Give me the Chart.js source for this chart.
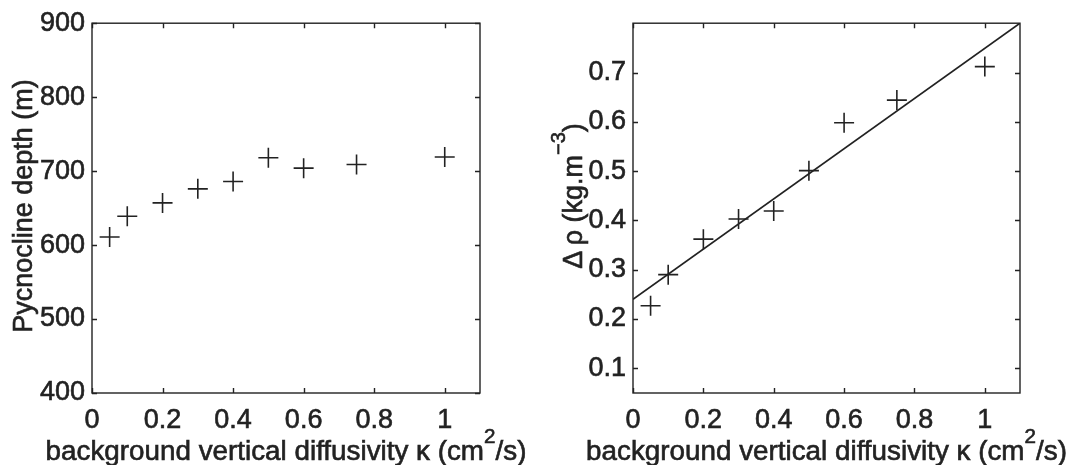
<!DOCTYPE html>
<html>
<head>
<meta charset="utf-8">
<script src="https://cdn.jsdelivr.net/npm/chart.js@4/dist/chart.umd.min.js"></script>
<style>
  html, body { margin: 0; padding: 0; background: #ffffff; }
  #wrap { position: relative; width: 1069px; height: 465px; background: #ffffff; overflow: hidden; }
  #left { position: absolute; left: 0; top: 0; }
  #right { position: absolute; left: 530px; top: 0; }
</style>
</head>
<body>
<div id="wrap">
  <canvas id="left" width="530" height="465"></canvas>
  <canvas id="right" width="539" height="465"></canvas>
</div>
<script>
// ---- data ----
const kappa = [0.05, 0.1, 0.2, 0.3, 0.4, 0.5, 0.6, 0.75, 1.0];           // cm^2/s
const pycnoclineDepth = [611, 639, 657, 676, 686, 718, 704, 709, 719];    // m
const deltaRho = [0.227, 0.290, 0.362, 0.403, 0.419, 0.501, 0.598, 0.644, 0.712]; // kg m^-3
const fitKappa = [0, 1.1];
const fitDeltaRho = [0.240, 0.800];
const kappaTicks = [0, 0.2, 0.4, 0.6, 0.8, 1];
const depthTicks = [400, 500, 600, 700, 800, 900];
const rhoTicks = [0.1, 0.2, 0.3, 0.4, 0.5, 0.6, 0.7];

const INK = '#222222';
const FONT = '"Liberation Sans", Arial, Helvetica, sans-serif';
const TICK_FONT_SIZE = 27;
const TITLE_FONT_SIZE = 27;

function pts(xs, ys) { return xs.map((x, i) => ({ x: x, y: ys[i] })); }

// draws a string made of parts, with optional superscript parts, centred on the origin
function drawParts(ctx, parts, size) {
  const supSize = Math.round(size * 0.75);
  let total = 0;
  const widths = parts.map(p => {
    ctx.font = (p.sup ? supSize : size) + 'px ' + FONT;
    const w = ctx.measureText(p.t).width;
    total += w;
    return w;
  });
  let x = -total / 2;
  parts.forEach((p, i) => {
    ctx.font = (p.sup ? supSize : size) + 'px ' + FONT;
    const y = p.sup ? -size * 0.62 : 0;
    ctx.strokeText(p.t, x, y);
    ctx.fillText(p.t, x, y);
    x += widths[i];
  });
}

const frameAndTitles = {
  id: 'frameAndTitles',
  afterDatasetsDraw(chart, args, opts) {
    const ctx = chart.ctx;
    const { left, right, top, bottom } = chart.chartArea;
    const xs = chart.scales.x, ys = chart.scales.y;
    ctx.save();
    ctx.strokeStyle = INK;
    ctx.lineWidth = 1.4;
    ctx.strokeRect(left, top, right - left, bottom - top);
    const TL = 5;
    ctx.beginPath();
    xs.ticks.forEach(t => {
      const px = Math.round(xs.getPixelForValue(t.value)) + 0.5;
      ctx.moveTo(px, bottom); ctx.lineTo(px, bottom - TL);
      ctx.moveTo(px, top); ctx.lineTo(px, top + TL);
    });
    ys.ticks.forEach(t => {
      const py = Math.round(ys.getPixelForValue(t.value)) + 0.5;
      ctx.moveTo(left, py); ctx.lineTo(left + TL, py);
      ctx.moveTo(right, py); ctx.lineTo(right - TL, py);
    });
    ctx.stroke();

    // axis titles
    ctx.fillStyle = INK;
    ctx.strokeStyle = INK;
    ctx.lineWidth = 0.6;
    ctx.textBaseline = 'alphabetic';
    ctx.textAlign = 'left';
    ctx.save();
    ctx.translate((left + right) / 2, 460);
    ctx.scale(1.03, 1);
    drawParts(ctx, opts.xTitle, TITLE_FONT_SIZE);
    ctx.restore();
    ctx.save();
    ctx.translate(opts.yTitleX, opts.yTitleY);
    ctx.rotate(-Math.PI / 2);
    drawParts(ctx, opts.yTitle, TITLE_FONT_SIZE);
    ctx.restore();
    ctx.restore();
  }
};

function makeScales(yMin, yMax, yTickValues, yWidth) {
  const tickFont = { family: FONT, size: TICK_FONT_SIZE };
  return {
    x: {
      type: 'linear', min: 0, max: 1.1,
      grid: { display: false, drawTicks: false, tickLength: 0 }, border: { display: false },
      afterBuildTicks: s => { s.ticks = kappaTicks.map(v => ({ value: v })); },
      ticks: { color: INK, font: tickFont, padding: 11, textStrokeColor: INK, textStrokeWidth: 0.6,
               maxRotation: 0, autoSkip: false, callback: v => String(v) },
      afterFit: s => { s.height = 72; }
    },
    y: {
      type: 'linear', min: yMin, max: yMax,
      grid: { display: false, drawTicks: false, tickLength: 0 }, border: { display: false },
      afterBuildTicks: s => { s.ticks = yTickValues.map(v => ({ value: v })); },
      ticks: { color: INK, font: tickFont, padding: 7, textStrokeColor: INK, textStrokeWidth: 0.6,
               autoSkip: false, callback: v => String(v) },
      afterFit: s => { s.width = yWidth; }
    }
  };
}

const common = {
  responsive: false,
  animation: false,
  events: [],
  plugins: { legend: { display: false }, tooltip: { enabled: false } }
};

const markerStyle = {
  pointStyle: 'cross', pointRadius: 10, pointBorderWidth: 1.6,
  pointBorderColor: INK, pointBackgroundColor: INK, showLine: false, borderColor: INK
};

new Chart(document.getElementById('left'), {
  type: 'scatter',
  data: { datasets: [Object.assign({ label: 'Pycnocline depth', data: pts(kappa, pycnoclineDepth) }, markerStyle)] },
  options: Object.assign({}, common, {
    layout: { padding: { top: 19, right: 50, bottom: 0, left: 0 } },
    scales: makeScales(400, 900, depthTicks, 92),
    plugins: Object.assign({}, common.plugins, {
      frameAndTitles: {
        xTitle: [{ t: 'background vertical diffusivity \u03BA (cm' }, { t: '2', sup: true }, { t: '/s)' }],
        yTitle: [{ t: 'Pycnocline depth (m)' }],
        yTitleX: 32, yTitleY: 206
      }
    })
  }),
  plugins: [frameAndTitles]
});

new Chart(document.getElementById('right'), {
  type: 'scatter',
  data: { datasets: [
    Object.assign({ label: '\u0394\u03C1', data: pts(kappa, deltaRho) }, markerStyle),
    { type: 'line', label: 'fit', data: pts(fitKappa, fitDeltaRho), showLine: true,
      borderColor: INK, borderWidth: 1.7, pointRadius: 0, fill: false, tension: 0 }
  ] },
  options: Object.assign({}, common, {
    layout: { padding: { top: 19, right: 49, bottom: 0, left: 0 } },
    scales: makeScales(0.05, 0.8, rhoTicks, 103),
    plugins: Object.assign({}, common.plugins, {
      frameAndTitles: {
        xTitle: [{ t: 'background vertical diffusivity \u03BA (cm' }, { t: '2', sup: true }, { t: '/s)' }],
        yTitle: [{ t: '\u0394\u2009\u03C1 (kg.m' }, { t: '\u22123', sup: true }, { t: ')' }],
        yTitleX: 52, yTitleY: 196
      }
    })
  }),
  plugins: [frameAndTitles]
});
</script>
</body>
</html>
